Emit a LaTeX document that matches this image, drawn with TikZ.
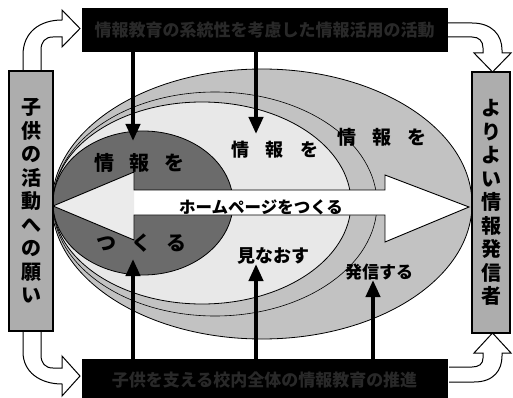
\documentclass[tikz,border=0pt]{standalone}
\usepackage{fontspec}
\newfontfamily\jp{Noto Sans CJK JP}
\usetikzlibrary{arrows.meta}
\begin{document}
\begin{tikzpicture}[x=1pt,y=-1pt,
  sidebox/.style={draw=black,line width=2.5pt,fill=black!32,inner sep=0pt,align=center,
     font=\jp\bfseries\fontsize{20}{23.5}\selectfont},
  bar/.style={draw=black,fill=black,line width=1pt,inner sep=0pt,minimum width=365pt,
     text=black!84,font=\jp\bfseries\fontsize{17}{20}\selectfont},
  harrow/.style={draw=black,line width=1pt,fill=white,line join=miter},
  lbl/.style={font=\jp\bfseries\fontsize{#1}{#1}\selectfont,inner sep=0pt},
  thick arrow/.style={line width=4pt,-{Triangle[width=14pt,length=17pt]}},
  ring/.style={draw=black,line width=0.8pt}]
\useasboundingbox (0,0) rectangle (513,398);

% curved hollow arrows
\draw[harrow] (23,72) -- (23,55) .. controls (23,32) and (40,20) .. (62,20) -- (62,10) -- (80,28.5)
  -- (62,47) -- (62,37) -- (53,37) .. controls (45,37) and (41,42) .. (41,50) -- (41,72);
\draw[harrow] (447,23) -- (472,23) .. controls (492,23) and (502,35) .. (502,50) -- (502,53) -- (511,53)
  -- (492.5,72) -- (474,53) -- (483,53) -- (483,48) .. controls (483,41) and (479,37) .. (472,37) -- (447,37);
\draw[harrow] (23,330) -- (23,352) .. controls (23,372) and (40,384) .. (62,384) -- (62,396) -- (80,376)
  -- (62,356) -- (62,368) -- (53,368) .. controls (45,368) and (41,363) .. (41,355) -- (41,330);
\draw[harrow] (449,382) -- (474,382) .. controls (494,382) and (502,370) .. (502,356) -- (502,353) -- (511,353)
  -- (492.5,333) -- (474,353) -- (483,353) -- (483,358) .. controls (483,364) and (479,367) .. (472,367) -- (449,367);

% ellipses
\fill[black!24] (262,204) ellipse [x radius=210pt, y radius=135pt];
\draw[ring] (262,204) ellipse [x radius=210pt, y radius=135pt];
\draw[ring,line width=0.6pt] (215,204) ellipse [x radius=162pt, y radius=112pt];
\fill[black!9] (202,203) ellipse [x radius=149pt, y radius=101pt];
\draw[ring] (202,203) ellipse [x radius=149pt, y radius=101pt];
\fill[black!58] (143,203) ellipse [x radius=90pt, y radius=72pt];
\draw[ring] (143,203) ellipse [x radius=90pt, y radius=72pt];

% big white arrow
\fill[white] (134,190) -- (385,190) -- (385,175) -- (469,207) -- (385,242) -- (385,215) -- (134,215) -- cycle;
\fill[black!8] (53,206) -- (134,172) -- (134,240) -- cycle;
\draw[draw=black,line width=0.9pt,line join=miter]
  (53,206) -- (134,172) -- (134,190) -- (385,190) -- (385,175) -- (469,207) -- (385,242)
  -- (385,215) -- (134,215) -- (134,240) -- cycle;

% boxes and bars
\node[sidebox,minimum width=44pt,minimum height=260pt] (left) at (31,201)
  {子\\供\\の\\活\\動\\へ\\の\\願\\い};
\node[sidebox,minimum width=38pt,minimum height=261pt] (right) at (491,202.5)
  {よ\\り\\よ\\い\\情\\報\\発\\信\\者};
\node[bar,minimum height=43pt] (top) at (264.5,30.5) {情報教育の系統性を考慮した情報活用の活動};
\node[bar,minimum height=42pt] (bottom) at (264.5,380) {子供を支える校内全体の情報教育の推進};

% inner arrows
\coordinate (t1) at (133,141);
\coordinate (t2) at (256,134);
\coordinate (b1) at (133,259);
\coordinate (b2) at (256,264);
\coordinate (b3) at (373,280);
\draw[thick arrow] (top.south -| t1) -- (t1);
\draw[thick arrow] (top.south -| t2) -- (t2);
\draw[thick arrow] (bottom.north -| b1) -- (b1);
\draw[thick arrow] (bottom.north -| b2) -- (b2);
\draw[thick arrow] (bottom.north -| b3) -- (b3);

% labels
\node[lbl=20] (d1) at (139,163) {情\hspace{15pt}報\hspace{15pt}を};
\node[lbl=20] (d2) at (141,243) {つ\hspace{15pt}く\hspace{15pt}る};
\node[lbl=18] (m1) at (275,150) {情\hspace{17pt}報\hspace{17pt}を};
\node[lbl=19] (o1) at (382,137) {情\hspace{16pt}報\hspace{16pt}を};
\node[lbl=16.5] (hp) at (261,207) {ホームページをつくる};
\node[lbl=18] (mn) at (273,256) {見なおす};
\node[lbl=17] (hs) at (379,272) {発信する};
\end{tikzpicture}
\end{document}
